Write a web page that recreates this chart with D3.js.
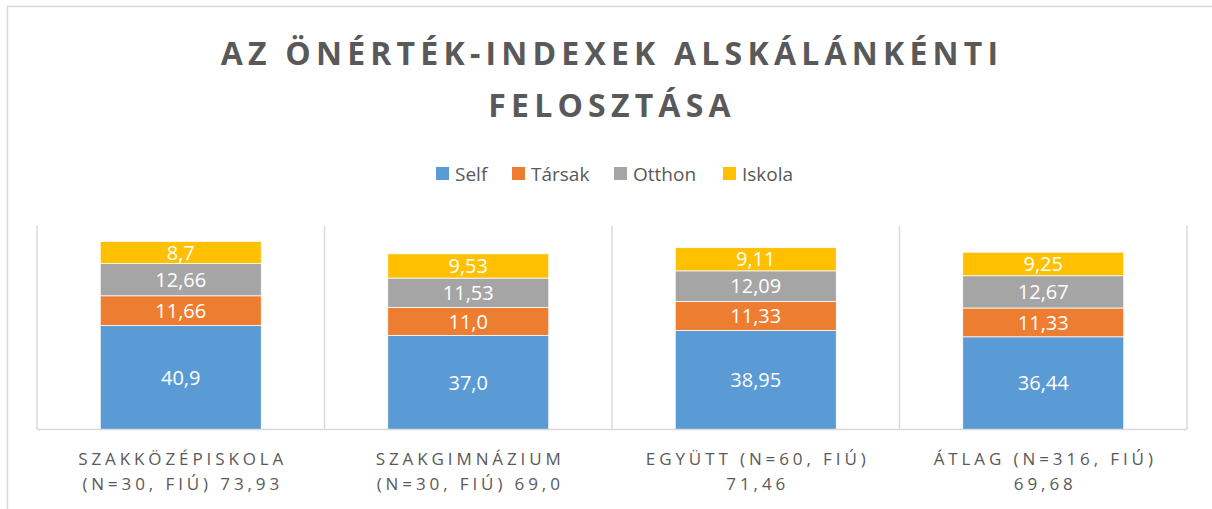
<!DOCTYPE html>
<html>
<head>
<meta charset="utf-8">
<script src="https://cdn.jsdelivr.net/npm/d3@7"></script>
<style>
  body { margin: 0; background: #fff; }
  svg text { font-family: "Open Sans", sans-serif; }
</style>
</head>
<body>
<div id="container"></div>
<script>
// chart data
const categories = ["szakközépiskola", "szakgimnázium", "egyutt", "atlag"];
const categoryLabels = [
  ["SZAKKÖZÉPISKOLA", "(N=30, FIÚ) 73,93"],
  ["SZAKGIMNÁZIUM", "(N=30, FIÚ) 69,0"],
  ["EGYÜTT (N=60, FIÚ)", "71,46"],
  ["ÁTLAG (N=316, FIÚ)", "69,68"]
];
const seriesNames = ["Self", "Társak", "Otthon", "Iskola"];
const seriesColors = ["#5B9BD5", "#ED7D31", "#A5A5A5", "#FFC000"];
// values as shown on the bars (hungarian decimal comma)
const selfValues   = ["40,9", "37,0", "38,95", "36,44"];
const tarsakValues = ["11,66", "11,0", "11,33", "11,33"];
const otthonValues = ["12,66", "11,53", "12,09", "12,67"];
const iskolaValues = ["8,7", "9,53", "9,11", "9,25"];
const titleLines = ["AZ ÖNÉRTÉK-INDEXEK ALSKÁLÁNKÉNTI", "FELOSZTÁSA"];

const num = s => +s.replace(",", ".");
const allSeries = [selfValues, tarsakValues, otthonValues, iskolaValues];

const rows = categories.map((c, i) => {
  const r = { cat: c };
  seriesNames.forEach((s, j) => { r[s] = num(allSeries[j][i]); });
  return r;
});
const stacked = d3.stack().keys(seriesNames)(rows);

const width = 1212, height = 509;
const GRID = "#D9D9D9", TXT = "#595959";

const svg = d3.select("#container").append("svg")
    .attr("width", width)
    .attr("height", height);

// outer chart frame (cut off at right / bottom like the screenshot)
svg.append("rect")
    .attr("x", 7.5).attr("y", 6.5)
    .attr("width", width + 20).attr("height", height + 20)
    .attr("fill", "none").attr("stroke", GRID).attr("stroke-width", 1.5);

// title
svg.append("g").selectAll("text").data(titleLines).enter().append("text")
    .attr("x", 612)
    .attr("y", (d, i) => 65 + i * 52)
    .attr("text-anchor", "middle")
    .attr("font-size", 32)
    .attr("font-weight", "bold")
    .attr("letter-spacing", 5.2)
    .attr("fill", TXT)
    .text(d => d);

// scales
const x = d3.scaleBand().domain(categories).range([37, 1187]).padding(0);
const y = d3.scaleLinear().domain([0, 80]).range([429.5, 226]);
const barW = x.bandwidth() * 0.56;

// dividers between categories
const edges = categories.map(c => x(c)).concat([x.range()[1]]);
svg.append("g").selectAll("line").data(edges).enter().append("line")
    .attr("x1", d => d).attr("x2", d => d)
    .attr("y1", y(80)).attr("y2", y(0))
    .attr("stroke", GRID).attr("stroke-width", 1.5);

// bars
const layer = svg.append("g").selectAll("g").data(stacked).enter().append("g")
    .attr("fill", (d, i) => seriesColors[i]);

layer.selectAll("rect").data(d => d).enter().append("rect")
    .attr("x", d => x(d.data.cat) + (x.bandwidth() - barW) / 2)
    .attr("y", d => y(d[1]))
    .attr("width", barW)
    .attr("height", d => y(d[0]) - y(d[1]))
    .attr("stroke", "#fff")
    .attr("stroke-width", 0.75);

// data labels
layer.selectAll("text").data((d, i) => d.map((p, k) => ({ p, label: allSeries[i][k] })))
  .enter().append("text")
    .attr("x", d => x(d.p.data.cat) + x.bandwidth() / 2)
    .attr("y", d => (y(d.p[0]) + y(d.p[1])) / 2)
    .attr("dy", "0.36em")
    .attr("text-anchor", "middle")
    .attr("font-size", 20)
    .attr("fill", "#fff")
    .text(d => d.label);

// x axis line
svg.append("line")
    .attr("x1", x.range()[0]).attr("x2", x.range()[1])
    .attr("y1", y(0)).attr("y2", y(0))
    .attr("stroke", GRID).attr("stroke-width", 1.5);

// category labels
const cl = svg.append("g").selectAll("text").data(categories).enter().append("text")
    .attr("text-anchor", "middle")
    .attr("font-size", 17)
    .attr("letter-spacing", 3.9)
    .attr("fill", TXT);
cl.selectAll("tspan").data((d, i) => categoryLabels[i].map(t => ({ t, c: d })))
  .enter().append("tspan")
    .attr("x", d => x(d.c) + x.bandwidth() / 2 + 2)
    .attr("y", (d, k) => 465 + k * 25)
    .text(d => d.t);

// legend
const legX = [436, 512, 614, 723];
const leg = svg.append("g").selectAll("g").data(seriesNames).enter().append("g")
    .attr("transform", (d, i) => `translate(${legX[i]},167)`);
leg.append("rect").attr("width", 13).attr("height", 13)
    .attr("fill", (d, i) => seriesColors[i]);
leg.append("text").attr("x", 19).attr("y", 13.5)
    .attr("font-size", 19).attr("fill", TXT)
    .text(d => d);
</script>
</body>
</html>
